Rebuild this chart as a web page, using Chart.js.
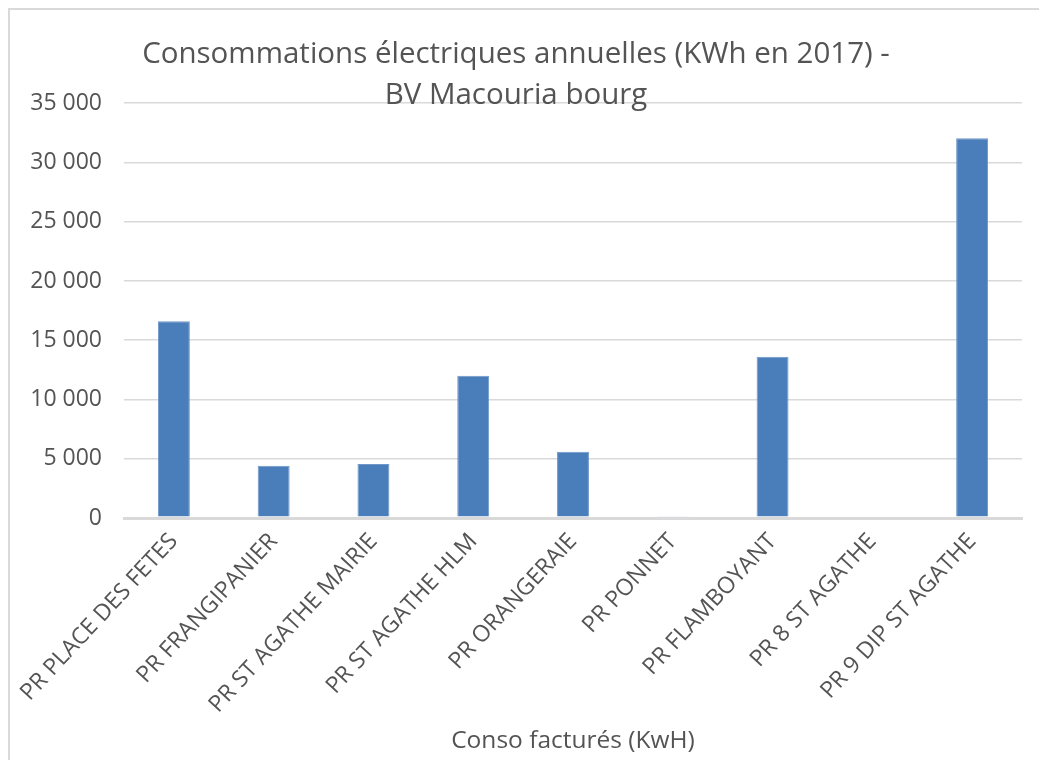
<!DOCTYPE html>
<html>
<head>
<meta charset="utf-8">
<script src="https://cdn.jsdelivr.net/npm/chart.js@4"></script>
<style>
  html, body { margin: 0; padding: 0; background: #fff; }
  #wrap { position: relative; width: 1039px; height: 760px; overflow: hidden; }
  #frame { position: absolute; left: 8px; top: 8px; width: 1100px; height: 800px;
           border-left: 2px solid #d9d9d9; border-top: 2px solid #d9d9d9; }
  canvas { position: absolute; left: 0; top: 0; }
</style>
</head>
<body>
<div id="wrap">
  <div id="frame"></div>
  <canvas id="chart" width="1039" height="760"></canvas>
</div>
<script>
// the stations (postes) and what they ate in 2017
const categories = [
  "PR PLACE DES FETES",
  "PR FRANGIPANIER",
  "PR ST AGATHE MAIRIE",
  "PR ST AGATHE HLM",
  "PR ORANGERAIE",
  "PR PONNET",
  "PR FLAMBOYANT",
  "PR 8 ST AGATHE",
  "PR 9 DIP ST AGATHE"
];
const consoKwh = [16600, 4400, 4550, 12000, 5600, 150, 13600, 0, 32050];

const titleLines = ["Consommations électriques annuelles (KWh en 2017) -", "BV Macouria bourg"];
const xAxisTitle = "Conso facturés (KwH)";
const yMax = 35000;
const yStep = 5000;

const textColor = "#545454";
const gridColor = "#d9d9d9";
const fontFamily = "'Open Sans', 'Noto Sans', sans-serif";

// "35 000" style, french thousands
function frNumber(v) {
  return String(v).replace(/\B(?=(\d{3})+(?!\d))/g, " ");
}

const ctx = document.getElementById("chart").getContext("2d");
new Chart(ctx, {
  type: "bar",
  data: {
    labels: categories,
    datasets: [{
      label: xAxisTitle,
      data: consoKwh,
      backgroundColor: "#4a7ebb",
      borderColor: "#6f97c9",
      borderWidth: 1,
      barPercentage: 0.32,
      categoryPercentage: 1
    }]
  },
  options: {
    responsive: false,
    animation: false,
    layout: { padding: { left: 10, right: 17, top: 0, bottom: 4 } },
    plugins: {
      legend: { display: false },
      tooltip: { enabled: false },
      title: {
        display: true,
        text: titleLines,
        color: textColor,
        font: { family: fontFamily, size: 29.5, weight: "normal", lineHeight: 1.36 },
        padding: { top: 35, bottom: -12 }
      }
    },
    scales: {
      x: {
        grid: { display: false, drawTicks: false },
        border: { display: true, color: gridColor, width: 3 },
        ticks: {
          color: textColor,
          font: { family: fontFamily, size: 23 },
          minRotation: 47,
          maxRotation: 47,
          autoSkip: false,
          padding: 10
        },
        title: {
          display: true,
          text: xAxisTitle,
          color: textColor,
          font: { family: fontFamily, size: 24.5 },
          padding: { top: 2, bottom: 0 }
        },
        afterFit: (scale) => { scale.height = 760 - 518 - 4; }
      },
      y: {
        min: 0,
        max: yMax,
        grid: {
          color: gridColor,
          lineWidth: (c) => (c.tick && c.tick.value === 0 ? 3 : 1.5),
          drawTicks: false
        },
        border: { display: false },
        ticks: {
          stepSize: yStep,
          color: textColor,
          font: { family: fontFamily, size: 23 },
          padding: 22,
          callback: (v) => frNumber(v)
        },
        afterFit: (scale) => { scale.width = 124 - 10; }
      }
    }
  }
});
</script>
</body>
</html>
